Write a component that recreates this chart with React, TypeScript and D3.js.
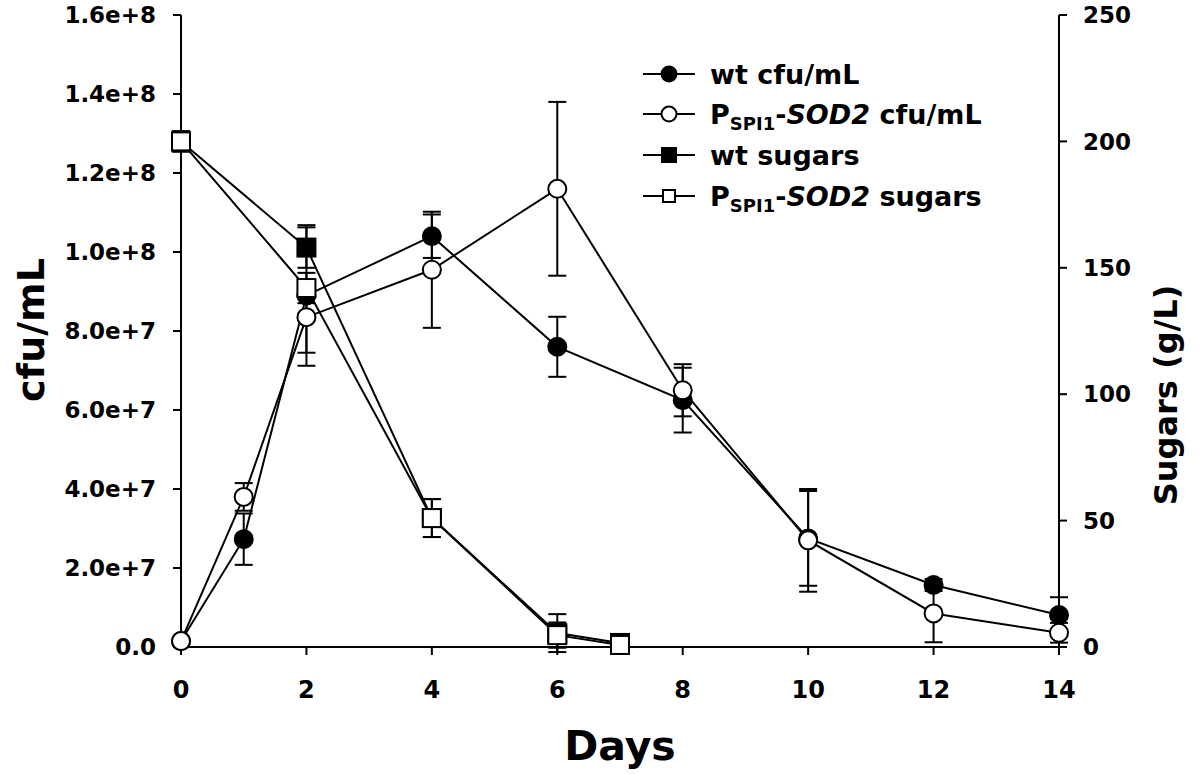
import React from "react";
import * as d3 from "d3";

const days = [0, 1, 2, 4, 6, 8, 10, 12, 14];
const wtCfu = [1.5e6, 2.73e7, 8.9e7, 1.04e8, 7.6e7, 6.25e7, 2.75e7, 1.57e7, 8.1e6];
const wtCfuErr = [0, 6.5e6, 1.78e7, 5.5e6, 7.6e6, 8.2e6, 1.2e7, 1.5e6, 4.5e6];
const sodCfu = [1.5e6, 3.8e7, 8.35e7, 9.55e7, 1.16e8, 6.5e7, 2.7e7, 8.5e6, 3.6e6];
const sodCfuErr = [0, 3.5e6, 9e6, 1.47e7, 2.2e7, 6.6e6, 1.3e7, 7.3e6, 2.5e6];

const sugarDays = [0, 2, 4, 6, 7];
const wtSugar = [200, 158, 51, 5.5, 1.6];
const wtSugarErr = [4, 8, 7.5, 7.5, 0.5];
const sodSugar = [200, 142, 51, 4.7, 0.8];
const sodSugarErr = [4, 6, 7.5, 5, 0.5];

const xTicks = [0, 2, 4, 6, 8, 10, 12, 14];
const leftTicks = [0, 2e7, 4e7, 6e7, 8e7, 1e8, 1.2e8, 1.4e8, 1.6e8];
const rightTicks = [0, 50, 100, 150, 200, 250];

const FONT = "'DejaVu Sans', Arial, sans-serif";

type Series = { xs: number[]; ys: number[]; errs: number[]; shape: "circle" | "square"; filled: boolean; axis: "L" | "R" };

export default function App() {
  const x = d3.scaleLinear().domain([0, 14]).range([181, 1059]);
  const yL = d3.scaleLinear().domain([0, 1.6e8]).range([647, 15]);
  const yR = d3.scaleLinear().domain([0, 250]).range([647, 15]);
  const fmtL = (v: number) => (v === 0 ? "0.0" : d3.format(".1e")(v));

  const series: Series[] = [
    { xs: days, ys: wtCfu, errs: wtCfuErr, shape: "circle", filled: true, axis: "L" },
    { xs: days, ys: sodCfu, errs: sodCfuErr, shape: "circle", filled: false, axis: "L" },
    { xs: sugarDays, ys: wtSugar, errs: wtSugarErr, shape: "square", filled: true, axis: "R" },
    { xs: sugarDays, ys: sodSugar, errs: sodSugarErr, shape: "square", filled: false, axis: "R" },
  ];

  const line = (s: Series) => {
    const y = s.axis === "L" ? yL : yR;
    return d3
      .line<number>()
      .x((_, i) => x(s.xs[i]))
      .y((d) => y(d))(s.ys) as string;
  };

  const marker = (shape: string, filled: boolean, cx: number, cy: number, size: number, key: any) =>
    shape === "circle" ? (
      <circle key={key} cx={cx} cy={cy} r={size / 2} fill={filled ? "#000" : "#fff"} stroke="#000" strokeWidth={2} />
    ) : (
      <rect key={key} x={cx - size / 2} y={cy - size / 2} width={size} height={size} fill={filled ? "#000" : "#fff"} stroke="#000" strokeWidth={2} />
    );

  const legendItems = [
    { shape: "circle", filled: true, label: <tspan>wt cfu/mL</tspan> },
    {
      shape: "circle",
      filled: false,
      label: (
        <>
          <tspan>P</tspan>
          <tspan fontSize={18} dy={6}>SPI1</tspan>
          <tspan dy={-6}>-</tspan>
          <tspan fontStyle="italic">SOD2</tspan>
          <tspan> cfu/mL</tspan>
        </>
      ),
    },
    { shape: "square", filled: true, label: <tspan>wt sugars</tspan> },
    {
      shape: "square",
      filled: false,
      label: (
        <>
          <tspan>P</tspan>
          <tspan fontSize={18} dy={6}>SPI1</tspan>
          <tspan dy={-6}>-</tspan>
          <tspan fontStyle="italic">SOD2</tspan>
          <tspan> sugars</tspan>
        </>
      ),
    },
  ];
  const legendY = [74, 114, 155, 196];

  return (
    <svg width={1200} height={774} style={{ position: "absolute", left: 0, top: 0, background: "#fff" }} fontFamily={FONT} fontWeight="bold">
      <rect width={1200} height={774} fill="#fff" />
      {/* axes */}
      <g stroke="#000" strokeWidth={2}>
        <line x1={181} x2={181} y1={15} y2={648} />
        <line x1={1059} x2={1059} y1={15} y2={648} />
        <line x1={180} x2={1060} y1={647} y2={647} />
        {leftTicks.map((t) => (
          <line key={"lt" + t} x1={173} x2={181} y1={yL(t)} y2={yL(t)} />
        ))}
        {rightTicks.map((t) => (
          <line key={"rt" + t} x1={1059} x2={1067} y1={yR(t)} y2={yR(t)} />
        ))}
        {xTicks.map((t) => (
          <line key={"xt" + t} x1={x(t)} x2={x(t)} y1={647} y2={655} />
        ))}
      </g>
      <g fontSize={23} fill="#000">
        {leftTicks.map((t) => (
          <text key={"ll" + t} x={156} y={yL(t)} dy="0.36em" textAnchor="end">
            {fmtL(t)}
          </text>
        ))}
        {rightTicks.map((t) => (
          <text key={"rl" + t} x={1083} y={yR(t)} dy="0.36em" textAnchor="start">
            {t}
          </text>
        ))}
        {xTicks.map((t) => (
          <text key={"xl" + t} x={x(t)} y={698} fontSize={24} textAnchor="middle">
            {t}
          </text>
        ))}
      </g>
      <text x={620} y={760} fontSize={41} textAnchor="middle">Days</text>
      <text transform="translate(44,330) rotate(-90)" fontSize={38} textAnchor="middle">cfu/mL</text>
      <text transform="translate(1177,395) rotate(-90)" fontSize={32} textAnchor="middle">Sugars (g/L)</text>

      {/* series */}
      {series.map((s, si) => {
        const y = s.axis === "L" ? yL : yR;
        return (
          <g key={"s" + si}>
            <path d={line(s)} fill="none" stroke="#000" strokeWidth={2} />
            <g stroke="#000" strokeWidth={2}>
              {s.ys.map((v, i) =>
                s.errs[i] > 0 ? (
                  <g key={i}>
                    <line x1={x(s.xs[i])} x2={x(s.xs[i])} y1={y(v - s.errs[i])} y2={y(v + s.errs[i])} />
                    <line x1={x(s.xs[i]) - 9} x2={x(s.xs[i]) + 9} y1={y(v - s.errs[i])} y2={y(v - s.errs[i])} />
                    <line x1={x(s.xs[i]) - 9} x2={x(s.xs[i]) + 9} y1={y(v + s.errs[i])} y2={y(v + s.errs[i])} />
                  </g>
                ) : null
              )}
            </g>
            {s.ys.map((v, i) => marker(s.shape, s.filled, x(s.xs[i]), y(v), 18, i))}
          </g>
        );
      })}

      {/* legend */}
      {legendItems.map((it, i) => (
        <g key={"lg" + i}>
          <line x1={643} x2={695} y1={legendY[i]} y2={legendY[i]} stroke="#000" strokeWidth={2} />
          {marker(it.shape, it.filled, 669, legendY[i], it.shape === "circle" ? 15 : it.filled ? 14 : 12, "m")}
          <text x={710} y={legendY[i]} dy="0.36em" fontSize={27}>
            {it.label}
          </text>
        </g>
      ))}
    </svg>
  );
}
